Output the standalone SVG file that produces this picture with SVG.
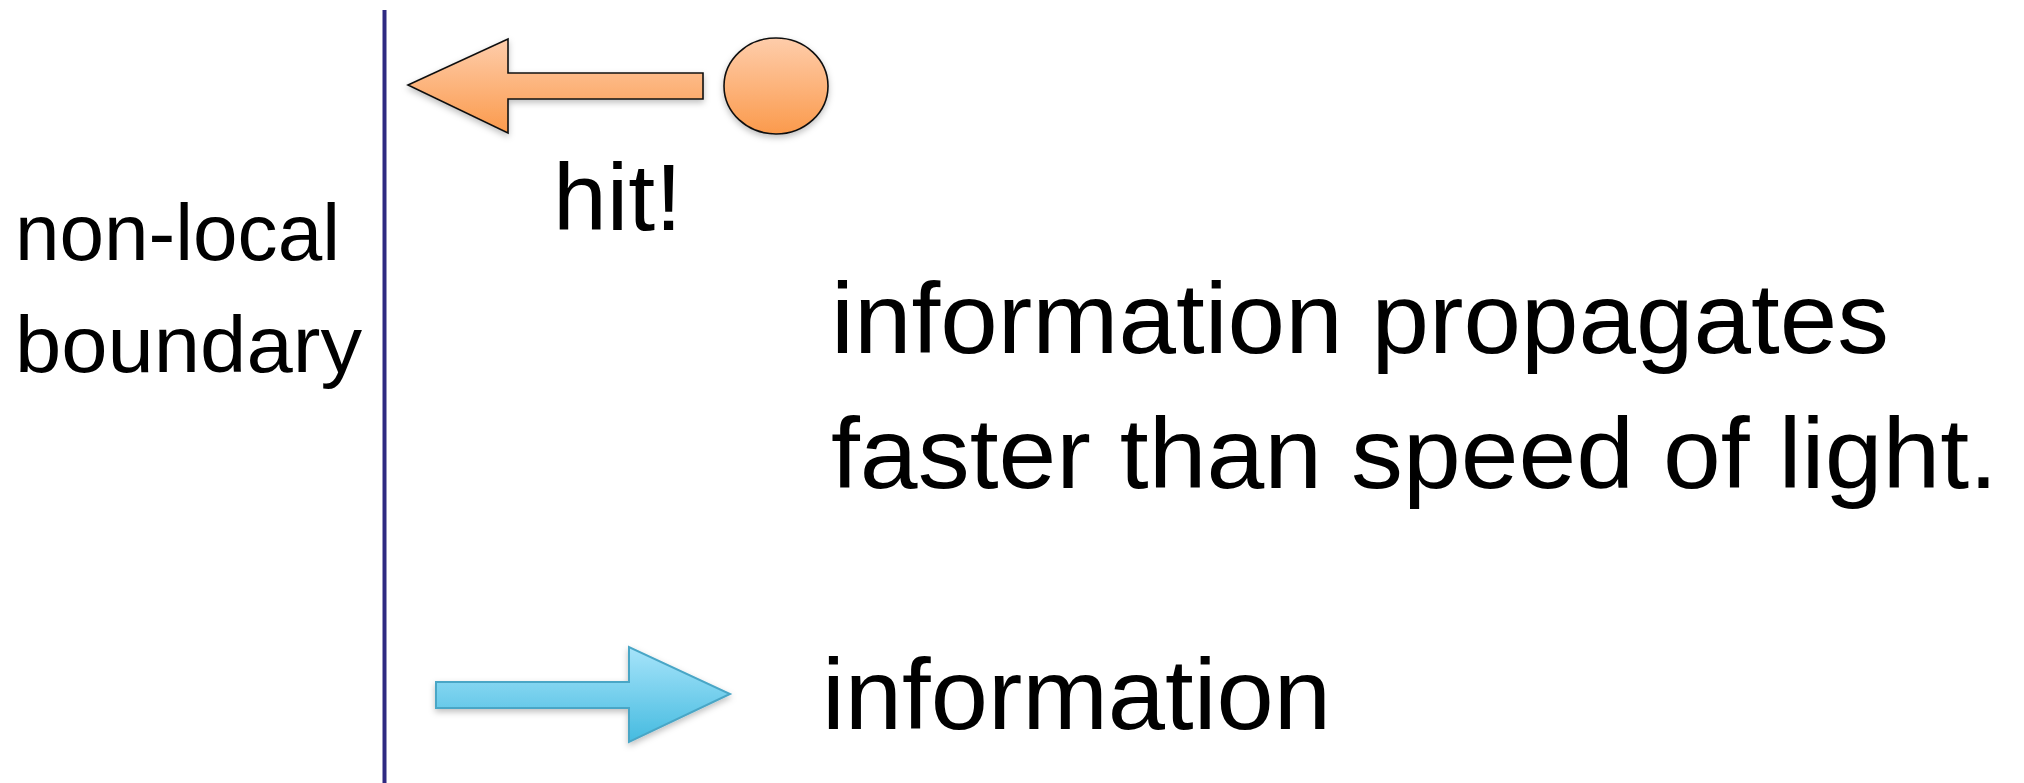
<svg xmlns="http://www.w3.org/2000/svg" width="2024" height="783" viewBox="0 0 2024 783">
  <style>
    .txt { font-family: "Liberation Sans", Arial, sans-serif; fill: #000; }
    .orange { fill: url(#gOrange); stroke: #111; stroke-width: 1.6; stroke-linejoin: miter; }
    .blue { fill: url(#gBlue); stroke: #4aa6c6; stroke-width: 2; stroke-linejoin: miter; }
  </style>
  <defs>
    <linearGradient id="gOrange" x1="0" y1="0" x2="0" y2="1">
      <stop offset="0" stop-color="#fecdab"/>
      <stop offset="1" stop-color="#fb9a4c"/>
    </linearGradient>
    <linearGradient id="gBlue" x1="0" y1="0" x2="0" y2="1">
      <stop offset="0" stop-color="#a7e4fa"/>
      <stop offset="1" stop-color="#45bbe0"/>
    </linearGradient>
    <filter id="shadow" x="-10%" y="-20%" width="120%" height="150%">
      <feDropShadow dx="0" dy="3" stdDeviation="3" flood-color="#000" flood-opacity="0.25"/>
    </filter>
  </defs>

  <rect width="2024" height="783" fill="#fff"/>

  <!-- boundary wall -->
  <g id="boundary">
    <line x1="384.5" y1="10" x2="384.5" y2="783" stroke="#2f2a82" stroke-width="4"/>
    <text class="txt" x="15" y="260" font-size="80" textLength="325" lengthAdjust="spacingAndGlyphs">non-local</text>
    <text class="txt" x="15" y="372" font-size="80" textLength="347" lengthAdjust="spacingAndGlyphs">boundary</text>
  </g>

  <!-- particle -->
  <g id="particle" filter="url(#shadow)">
    <ellipse class="orange" cx="776" cy="86" rx="52" ry="48"/>
  </g>

  <g id="connectors">
    <!-- particle moving toward the wall -->
    <polygon class="orange" filter="url(#shadow)" points="408,85 508,39 508,73 703,73 703,99 508,99 508,133"/>
    <!-- information flow -->
    <polygon class="blue" filter="url(#shadow)" points="436,682 629,682 629,647 730,694 629,742 629,708 436,708"/>
  </g>

  <g id="hit-label">
    <text class="txt" x="553" y="230" font-size="95" textLength="129" lengthAdjust="spacingAndGlyphs">hit!</text>
  </g>

  <g id="caption">
    <text class="txt" x="831" y="353" font-size="100" textLength="1058" lengthAdjust="spacingAndGlyphs">information propagates</text>
    <text class="txt" x="831" y="488" font-size="100" textLength="1167" lengthAdjust="spacingAndGlyphs">faster than speed of light.</text>
  </g>

  <g id="legend">
    <text class="txt" x="822" y="729" font-size="100" textLength="509" lengthAdjust="spacingAndGlyphs">information</text>
  </g>
</svg>
